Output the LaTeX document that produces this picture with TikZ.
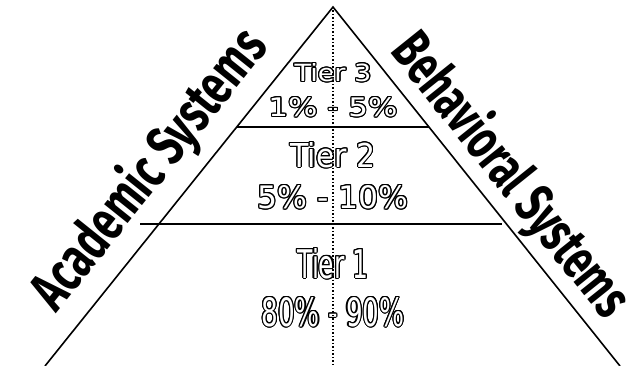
\documentclass[tikz,border=0pt]{standalone}
\usepackage{fontspec}
\setmainfont{DejaVu Sans}
\newfontfamily\sidefont{Fira Sans}
\usepackage{graphicx}
\usepackage{contour}
\contourlength{1.1pt}
\usetikzlibrary{positioning}
\colorlet{background}{white}
\colorlet{penColor}{black}
\tikzset{
  sideline/.style={penColor, line width=1.6pt},
  tierline/.style={penColor, line width=2pt},
  midline/.style={penColor, line width=1.3pt, dash pattern=on 1.5pt off 2pt},
  tierlabel/.style={inner sep=0pt},
  sidelabel/.style={inner sep=0pt, penColor}
}
\newcommand{\hollow}[3]{\contour{penColor}{\resizebox{#1}{#2}{\textcolor{white}{#3}}}}
\begin{document}
\begin{tikzpicture}[x=1pt,y=1pt]
  \useasboundingbox[fill=background] (0,0) rectangle (634,366);
  % corners of the pyramid
  \coordinate (apex) at (333,359);
  \coordinate (bl) at (45,0);
  \coordinate (br) at (620,0);
  \coordinate (base) at (333,0);
  \coordinate (d3l) at (237,239);
  \coordinate (d3r) at (429,239);
  \coordinate (d2l) at (140,142);
  \coordinate (d2r) at (502,142);
  \draw[sideline] (bl) -- (apex) -- (br);
  \draw[tierline] (d3l) -- (d3r);
  \draw[tierline] (d2l) -- (d2r);
  % tier texts
  \node[tierlabel] (t3) at (333,293) {\hollow{77pt}{18pt}{Tier 3}};
  \node[tierlabel] (p3) at (333,258.5) {\hollow{129pt}{19pt}{1\% - 5\%}};
  \node[tierlabel] (t2) at (333,210.5) {\hollow{85pt}{25pt}{Tier 2}};
  \node[tierlabel] (p2) at (333,168.5) {\hollow{151pt}{23pt}{5\% - 10\%}};
  \node[tierlabel] (t1) at (333,102) {\hollow{71pt}{30pt}{Tier 1}};
  \node[tierlabel] (p1) at (333,53.5) {\hollow{143pt}{29pt}{80\% - 90\%}};
  \draw[midline] (apex) -- (base);
  % side texts
  \node[sidelabel, rotate=51.3] (acad) at (150,196)
    {\resizebox{340pt}{46pt}{\sidefont\bfseries Academic Systems}};
  \node[sidelabel, rotate=-51.3] (behav) at (510,190)
    {\resizebox{345pt}{46pt}{\sidefont\bfseries Behavioral Systems}};
\end{tikzpicture}
\end{document}
